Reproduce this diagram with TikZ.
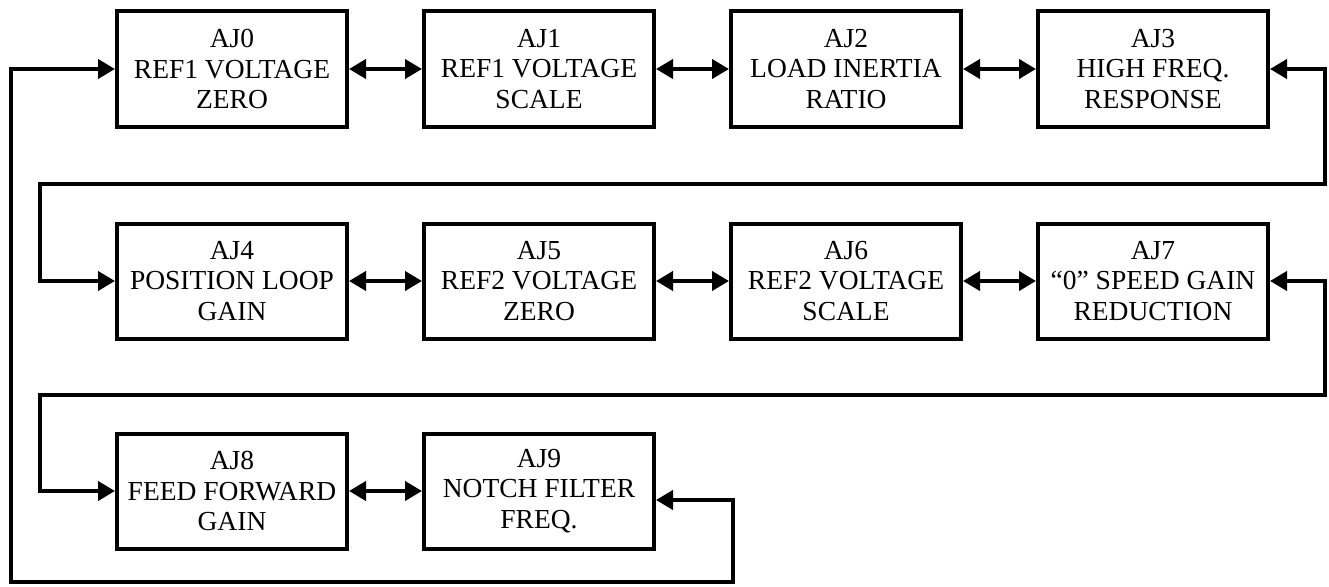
\documentclass[tikz,border=0pt]{standalone}
\usepackage{fontspec}
\setmainfont{Liberation Serif}
\usetikzlibrary{arrows.meta}
\begin{document}
\begin{tikzpicture}[x=1pt,y=-1pt,
  box/.style={draw,line width=4pt,minimum width=230pt,minimum height=115pt,inner sep=0pt,align=center,
    font=\fontsize{27.5}{30.5}\selectfont},
  conn/.style={line width=4pt,{Triangle[length=17pt,width=19pt]}-{Triangle[length=17pt,width=19pt]}}]
\useasboundingbox (0,0) rectangle (1329,586);
\node[box] (a0) at (232,69) {AJ0\\REF1 VOLTAGE\\ZERO};
\node[box] (a1) at (539,69) {AJ1\\REF1 VOLTAGE\\SCALE};
\node[box] (a2) at (846,69) {AJ2\\LOAD INERTIA\\RATIO};
\node[box] (a3) at (1153,69) {AJ3\\HIGH FREQ.\\RESPONSE};
\node[box] (a4) at (232,281) {AJ4\\POSITION LOOP\\GAIN};
\node[box] (a5) at (539,281) {AJ5\\REF2 VOLTAGE\\ZERO};
\node[box] (a6) at (846,281) {AJ6\\REF2 VOLTAGE\\SCALE};
\node[box] (a7) at (1153,281) {AJ7\\“0” SPEED GAIN\\REDUCTION};
\node[box] (a8) at (232,491) {AJ8\\FEED FORWARD\\GAIN};
\node[box] (a9) at (539,491) {AJ9\\NOTCH FILTER\\FREQ.};
\coordinate (r1) at (1325,184);
\coordinate (l1) at (40,281);
\coordinate (r2) at (1325,395);
\coordinate (l2) at (40,491);
\coordinate (r3) at (733,582);
\coordinate (l3) at (11,69);
\draw[conn] (a0) -- (a1);
\draw[conn] (a1) -- (a2);
\draw[conn] (a2) -- (a3);
\draw[conn] (a4) -- (a5);
\draw[conn] (a5) -- (a6);
\draw[conn] (a6) -- (a7);
\draw[conn] (a8) -- (a9);
\draw[conn] (a3.east) -| (r1) -| (l1) -- (a4.west);
\draw[conn] (a7.east) -| (r2) -| (l2) -- (a8.west);
\draw[conn] ([yshift=-9pt]a9.east) -| (r3) -| (l3) -- (a0.west);
\end{tikzpicture}
\end{document}
